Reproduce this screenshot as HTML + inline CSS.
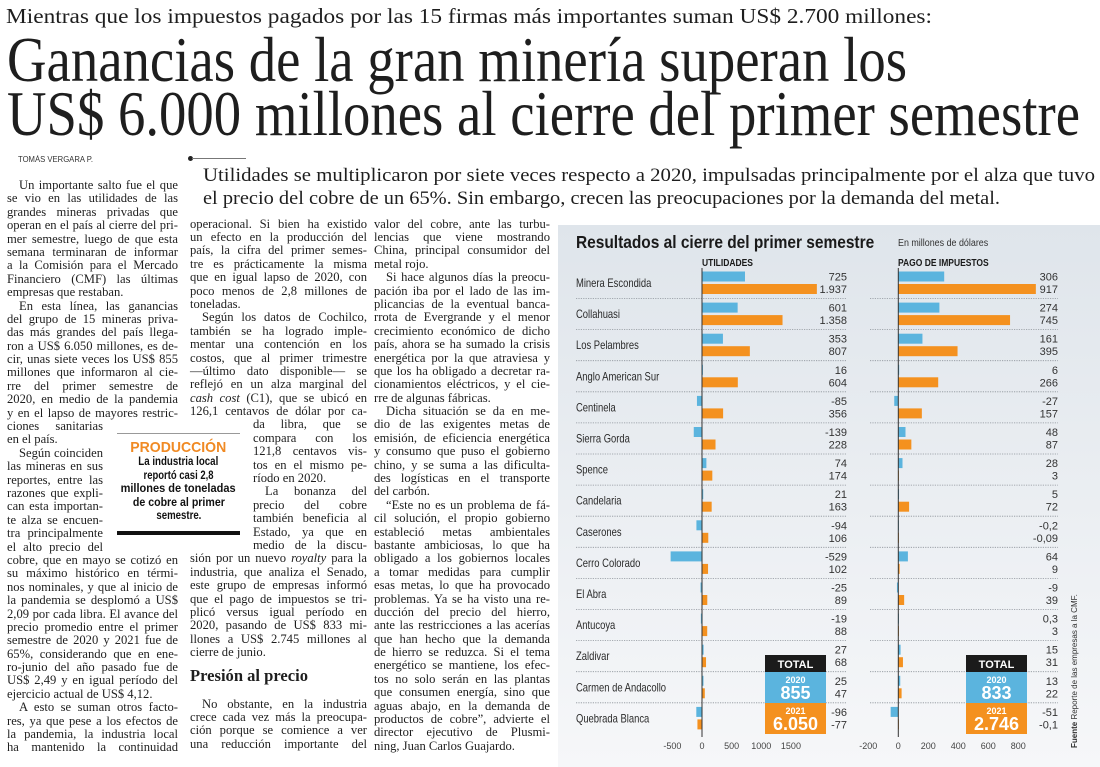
<!DOCTYPE html>
<html lang="es"><head><meta charset="utf-8">
<style>
html,body{margin:0;padding:0;background:#fff;}
body{width:1100px;height:767px;position:relative;overflow:hidden;font-family:"Liberation Serif",serif;color:#1e1e1e;}
.abs{position:absolute;white-space:nowrap;}
.fit{display:inline-block;transform-origin:0 0;}
.col{position:absolute;font-size:12.6px;}
.ln{height:13.4px;line-height:13.4px;white-space:nowrap;text-align:justify;text-align-last:justify;transform-origin:0 50%;overflow:visible;}
.ln.e{text-align-last:left;}
.ln.i{text-indent:12px;}
.nar{width:96px;}
#chart{position:absolute;left:558px;top:225px;width:542px;height:542px;}
</style></head>
<body>
<div class="abs" style="left:6px;top:3px;font-size:21px;line-height:26px;"><span class="fit" data-w="926">Mientras que los impuestos pagados por las 15 firmas más importantes suman US$ 2.700 millones:</span></div>
<div class="abs" style="left:7px;top:28px;font-size:64px;line-height:64px;"><span class="fit" data-w="900">Ganancias de la gran minería superan los</span></div>
<div class="abs" style="left:7px;top:82px;font-size:64px;line-height:64px;"><span class="fit" data-w="1073">US$ 6.000 millones al cierre del primer semestre</span></div>
<div class="abs" style="left:18px;top:155px;font-family:'Liberation Sans',sans-serif;font-size:8px;line-height:10px;text-decoration:underline;color:#333;"><span class="fit" data-w="75">TOMÁS VERGARA P.</span></div>
<div class="abs" style="left:188px;top:156px;width:5px;height:5px;border-radius:50%;background:#222;"></div>
<div class="abs" style="left:192px;top:158px;width:54px;height:1px;background:#777;"></div>
<div class="abs" style="left:203px;top:164px;font-size:19px;line-height:23px;"><span class="fit" data-w="892">Utilidades se multiplicaron por siete veces respecto a 2020, impulsadas principalmente por el alza que tuvo</span></div>
<div class="abs" style="left:203px;top:187px;font-size:19px;line-height:23px;"><span class="fit" data-w="797">el precio del cobre de un 65%. Sin embargo, crecen las preocupaciones por la demanda del metal.</span></div>

<div class="col" style="left:7px;top:179px;width:171px;">
<div class="ln i">Un importante salto fue el que</div>
<div class="ln">se vio en las utilidades de las</div>
<div class="ln">grandes mineras privadas que</div>
<div class="ln">operan en el país al cierre del pri-</div>
<div class="ln">mer semestre, luego de que esta</div>
<div class="ln">semana terminaran de informar</div>
<div class="ln">a la Comisión para el Mercado</div>
<div class="ln">Financiero (CMF) las últimas</div>
<div class="ln e">empresas que restaban.</div>
<div class="ln i">En esta línea, las ganancias</div>
<div class="ln">del grupo de 15 mineras priva-</div>
<div class="ln">das más grandes del país llega-</div>
<div class="ln">ron a US$ 6.050 millones, es de-</div>
<div class="ln">cir, unas siete veces los US$ 855</div>
<div class="ln">millones que informaron al cie-</div>
<div class="ln">rre del primer semestre de</div>
<div class="ln">2020, en medio de la pandemia</div>
<div class="ln">y en el lapso de mayores restric-</div>
<div class="ln nar">ciones sanitarias</div>
<div class="ln e nar">en el país.</div>
<div class="ln i nar">Según coinciden</div>
<div class="ln nar">las mineras en sus</div>
<div class="ln nar">reportes, entre las</div>
<div class="ln nar">razones que expli-</div>
<div class="ln nar">can esta importan-</div>
<div class="ln nar">te alza se encuen-</div>
<div class="ln nar">tra principalmente</div>
<div class="ln nar">el alto precio del</div>
<div class="ln">cobre, que en mayo se cotizó en</div>
<div class="ln">su máximo histórico en térmi-</div>
<div class="ln">nos nominales, y que al inicio de</div>
<div class="ln">la pandemia se desplomó a US$</div>
<div class="ln">2,09 por cada libra. El avance del</div>
<div class="ln">precio promedio entre el primer</div>
<div class="ln">semestre de 2020 y 2021 fue de</div>
<div class="ln">65%, considerando que en ene-</div>
<div class="ln">ro-junio del año pasado fue de</div>
<div class="ln">US$ 2,49 y en igual período del</div>
<div class="ln e">ejercicio actual de US$ 4,12.</div>
<div class="ln i">A esto se suman otros facto-</div>
<div class="ln">res, ya que pese a los efectos de</div>
<div class="ln">la pandemia, la industria local</div>
<div class="ln">ha mantenido la continuidad</div>
</div>

<div class="abs" style="left:117px;top:433px;width:123px;height:1px;background:#999;"></div>
<div class="abs" style="left:117px;top:440px;width:123px;text-align:center;font-family:'Liberation Sans',sans-serif;font-weight:bold;white-space:normal;">
<div style="color:#f08a24;font-size:15px;line-height:16px;"><span class="fit" data-w="96" style="transform-origin:50% 0;">PRODUCCIÓN</span></div>
<div style="font-size:11.5px;line-height:13.6px;color:#111;">
<div><span class="fit" data-w="80" style="transform-origin:50% 0;">La industria local</span></div>
<div><span class="fit" data-w="70" style="transform-origin:50% 0;">reportó casi 2,8</span></div>
<div><span class="fit" data-w="115" style="transform-origin:50% 0;">millones de toneladas</span></div>
<div><span class="fit" data-w="92" style="transform-origin:50% 0;">de cobre al primer</span></div>
<div><span class="fit" data-w="45" style="transform-origin:50% 0;">semestre.</span></div>
</div></div>
<div class="abs" style="left:117px;top:531px;width:123px;height:4px;background:#111;"></div>

<div class="col" style="left:190px;top:217.6px;width:177px;">
<div class="ln">operacional. Si bien ha existido</div>
<div class="ln">un efecto en la producción del</div>
<div class="ln">país, la cifra del primer semes-</div>
<div class="ln">tre es prácticamente la misma</div>
<div class="ln">que en igual lapso de 2020, con</div>
<div class="ln">poco menos de 2,8 millones de</div>
<div class="ln e">toneladas.</div>
<div class="ln i">Según los datos de Cochilco,</div>
<div class="ln">también se ha logrado imple-</div>
<div class="ln">mentar una contención en los</div>
<div class="ln">costos, que al primer trimestre</div>
<div class="ln">—último dato disponible— se</div>
<div class="ln">reflejó en un alza marginal del</div>
<div class="ln"><i>cash cost</i> (C1), que se ubicó en</div>
<div class="ln">126,1 centavos de dólar por ca-</div>
<div class="ln" style="margin-left:63px;width:114px;">da libra, que se</div>
<div class="ln" style="margin-left:63px;width:114px;">compara con los</div>
<div class="ln" style="margin-left:63px;width:114px;">121,8 centavos vis-</div>
<div class="ln" style="margin-left:63px;width:114px;">tos en el mismo pe-</div>
<div class="ln e" style="margin-left:63px;width:114px;">ríodo en 2020.</div>
<div class="ln i" style="margin-left:63px;width:114px;">La bonanza del</div>
<div class="ln" style="margin-left:63px;width:114px;">precio del cobre</div>
<div class="ln" style="margin-left:63px;width:114px;">también beneficia al</div>
<div class="ln" style="margin-left:63px;width:114px;">Estado, ya que en</div>
<div class="ln" style="margin-left:63px;width:114px;">medio de la discu-</div>
<div class="ln">sión por un nuevo <i>royalty</i> para la</div>
<div class="ln">industria, que analiza el Senado,</div>
<div class="ln">este grupo de empresas informó</div>
<div class="ln">que el pago de impuestos se tri-</div>
<div class="ln">plicó versus igual período en</div>
<div class="ln">2020, pasando de US$ 833 mi-</div>
<div class="ln">llones a US$ 2.745 millones al</div>
<div class="ln e">cierre de junio.</div>
</div>
<div class="abs" style="left:190px;top:666px;font-size:17px;line-height:20px;font-weight:bold;"><span class="fit" data-w="118">Presión al precio</span></div>
<div class="col" style="left:190px;top:697.5px;width:177px;">
<div class="ln i">No obstante, en la industria</div>
<div class="ln">crece cada vez más la preocupa-</div>
<div class="ln">ción porque se comience a ver</div>
<div class="ln">una reducción importante del</div>
</div>

<div class="col" style="left:374px;top:217.6px;width:176px;">
<div class="ln">valor del cobre, ante las turbu-</div>
<div class="ln">lencias que viene mostrando</div>
<div class="ln">China, principal consumidor del</div>
<div class="ln e">metal rojo.</div>
<div class="ln i">Si hace algunos días la preocu-</div>
<div class="ln">pación iba por el lado de las im-</div>
<div class="ln">plicancias de la eventual banca-</div>
<div class="ln">rrota de Evergrande y el menor</div>
<div class="ln">crecimiento económico de dicho</div>
<div class="ln">país, ahora se ha sumado la crisis</div>
<div class="ln">energética por la que atraviesa y</div>
<div class="ln">que los ha obligado a decretar ra-</div>
<div class="ln">cionamientos eléctricos, y el cie-</div>
<div class="ln e">rre de algunas fábricas.</div>
<div class="ln i">Dicha situación se da en me-</div>
<div class="ln">dio de las exigentes metas de</div>
<div class="ln">emisión, de eficiencia energética</div>
<div class="ln">y consumo que puso el gobierno</div>
<div class="ln">chino, y se suma a las dificulta-</div>
<div class="ln">des logísticas en el transporte</div>
<div class="ln e">del carbón.</div>
<div class="ln i">“Este no es un problema de fá-</div>
<div class="ln">cil solución, el propio gobierno</div>
<div class="ln">estableció metas ambientales</div>
<div class="ln">bastante ambiciosas, lo que ha</div>
<div class="ln">obligado a los gobiernos locales</div>
<div class="ln">a tomar medidas para cumplir</div>
<div class="ln">esas metas, lo que ha provocado</div>
<div class="ln">problemas. Ya se ha visto una re-</div>
<div class="ln">ducción del precio del hierro,</div>
<div class="ln">ante las restricciones a las acerías</div>
<div class="ln">que han hecho que la demanda</div>
<div class="ln">de hierro se reduzca. Si el tema</div>
<div class="ln">energético se mantiene, los efec-</div>
<div class="ln">tos no solo serán en las plantas</div>
<div class="ln">que consumen energía, sino que</div>
<div class="ln">aguas abajo, en la demanda de</div>
<div class="ln">productos de cobre”, advierte el</div>
<div class="ln">director ejecutivo de Plusmi-</div>
<div class="ln e">ning, Juan Carlos Guajardo.</div>
</div>

<svg id="chart" viewBox="558 225 542 542" xmlns="http://www.w3.org/2000/svg">
<defs><linearGradient id="bg" x1="0" y1="0" x2="0" y2="1"><stop offset="0" stop-color="#dfe5eb"/><stop offset="1" stop-color="#f6f7f9"/></linearGradient></defs>
<rect x="558" y="225" width="542" height="542" fill="url(#bg)"/>
<g id="plot"></g>
</svg>

<script>
const companies = ["Minera Escondida","Collahuasi","Los Pelambres","Anglo American Sur","Centinela","Sierra Gorda","Spence","Candelaria","Caserones","Cerro Colorado","El Abra","Antucoya","Zaldivar","Carmen de  Andacollo","Quebrada Blanca"];
const util2020 = [725,601,353,16,-85,-139,74,21,-94,-529,-25,-19,27,25,-96];
const util2021 = [1937,1358,807,604,356,228,174,163,106,102,89,88,68,47,-77];
const tax2020 = [306,274,161,6,-27,48,28,5,-0.2,64,-9,0.3,15,13,-51];
const tax2021 = [917,745,395,266,157,87,3,72,-0.09,9,39,3,31,22,-0.1];
const utilTicks = [-500,0,500,1000,1500];
const taxTicks = [-200,0,200,400,600,800];
const totalUtil = [855,6050];
const totalTax = [833,2746];

const BLUE="#5bb4de", ORANGE="#f4911f";
const xU = v => 702 + v*0.0593;
const xT = v => 898.3 + v*0.15;
const rowTop = i => 267.5 + 31.1*i;
const NS="http://www.w3.org/2000/svg";
const plot=document.getElementById('plot');
function mk(tag, attrs, text){const e=document.createElementNS(NS,tag);for(const k in attrs)e.setAttribute(k,attrs[k]);if(text!==undefined)e.textContent=text;plot.appendChild(e);return e;}
function fmt(v){
  if(Number.isInteger(v)){const s=String(Math.abs(v)).replace(/\B(?=(\d{3})+(?!\d))/g,'.');return (v<0?'-':'')+s;}
  return String(v).replace('.',',');
}
const SANS='"Liberation Sans",sans-serif';

let t=mk('text',{transform:'translate(576,248) scale(0.86,1)','font-family':SANS,'font-weight':'bold','font-size':'18',fill:'#1a1a1a'},'Resultados al cierre del primer semestre');


t=mk('text',{transform:'translate(898,246) scale(0.85,1)','font-family':SANS,'font-size':'10.5',fill:'#333'},'En millones de dólares');


t=mk('text',{transform:'translate(702,266) scale(0.85,1)','font-family':SANS,'font-weight':'bold','font-size':'10',fill:'#1a1a1a'},'UTILIDADES');


t=mk('text',{transform:'translate(898,266) scale(0.85,1)','font-family':SANS,'font-weight':'bold','font-size':'10',fill:'#1a1a1a'},'PAGO DE IMPUESTOS');



companies.forEach((name,i)=>{
  const y=rowTop(i);
  let e=mk('text',{transform:`translate(576,${y+19.5}) scale(0.82,1)`,'font-family':SANS,'font-size':'11.5',fill:'#2a2a2a'},name);
  
  
  if(i<companies.length-1){
    e=mk('line',{x1:576,x2:847,y1:y+31,y2:y+31,stroke:'#8d939a','stroke-width':0.8,'stroke-dasharray':'1.2,1.2'});
    
    
    e=mk('line',{x1:870,x2:1058,y1:y+31,y2:y+31,stroke:'#8d939a','stroke-width':0.8,'stroke-dasharray':'1.2,1.2'});
    
    
  }
  const bars=[[util2020[i],xU,BLUE,4,'bar-utilidades-2020'],[util2021[i],xU,ORANGE,16.5,'bar-utilidades-2021'],[tax2020[i],xT,BLUE,4,'bar-impuestos-2020'],[tax2021[i],xT,ORANGE,16.5,'bar-impuestos-2021']];
  bars.forEach(b=>{
    const x0=b[1](0), x1=b[1](b[0]);
    e=mk('rect',{x:Math.min(x0,x1),y:y+b[3],width:Math.max(Math.abs(x1-x0),0.6),height:10,fill:b[2]});
    
    
  });
  const vals=[[util2020[i],847,y+13],[util2021[i],847,y+25.5],[tax2020[i],1058,y+13],[tax2021[i],1058,y+25.5]];
  vals.forEach(v=>{
    e=mk('text',{x:v[1],y:v[2],'text-anchor':'end','font-family':SANS,'font-size':'11',fill:'#333'},fmt(v[0]));
    
    
  });
});

let ax=mk('line',{x1:xU(0),x2:xU(0),y1:268,y2:737,stroke:'#333','stroke-width':1});


ax=mk('line',{x1:xT(0),x2:xT(0),y1:268,y2:737,stroke:'#333','stroke-width':1});


utilTicks.forEach(v=>{
  const e=mk('text',{x:xU(v),y:749,'text-anchor':'middle','font-family':SANS,'font-size':'9',fill:'#444'},String(v));
  
  
});
taxTicks.forEach(v=>{
  const e=mk('text',{x:xT(v),y:749,'text-anchor':'middle','font-family':SANS,'font-size':'9',fill:'#444'},String(v));
  
  
});

function totalBox(x, vals, key){
  let e=mk('rect',{x:x,y:655,width:61,height:17,fill:'#1b1b1b'});
  
  
  e=mk('text',{x:x+30.5,y:668,'text-anchor':'middle','font-family':SANS,'font-weight':'bold','font-size':'11',fill:'#fff'},'TOTAL');
  
  
  [[BLUE,'2020',vals[0],672],[ORANGE,'2021',vals[1],703]].forEach(r=>{
    e=mk('rect',{x:x,y:r[3],width:61,height:31,fill:r[0]});
    
    
    e=mk('text',{x:x+30.5,y:r[3]+11,'text-anchor':'middle','font-family':SANS,'font-weight':'bold','font-size':'9',fill:'#fff'},r[1]);
    
    
    e=mk('text',{x:x+30.5,y:r[3]+27,'text-anchor':'middle','font-family':SANS,'font-weight':'bold','font-size':'18',fill:'#fff'},fmt(r[2]));
    
    
  });
}
totalBox(765,totalUtil,'utilidades');
totalBox(966,totalTax,'impuestos');

let src=mk('text',{transform:'translate(1077,748) rotate(-90)','font-family':SANS,'font-size':'8',fill:'#333'});
src.innerHTML='<tspan font-weight="bold">Fuente</tspan>  Reporte de las empresas a la CMF.';



document.querySelectorAll('.fit').forEach(el=>{
  const w=+el.getAttribute('data-w');const r=el.getBoundingClientRect().width;
  if(r>0)el.style.transform='scaleX('+(w/r)+')';
  if(el.style.transformOrigin==='50% 0px'||el.style.transformOrigin==='50% 0%'){el.style.transform='scaleX('+Math.min(1.3,w/r)+')';}
});
document.querySelectorAll('.ln').forEach(el=>{
  const cw=el.clientWidth, sw=el.scrollWidth;
  if(sw>cw+0.5){el.style.width=sw+'px';el.style.transform='scaleX('+(cw/sw)+')';}
});
</script>
</body></html>
